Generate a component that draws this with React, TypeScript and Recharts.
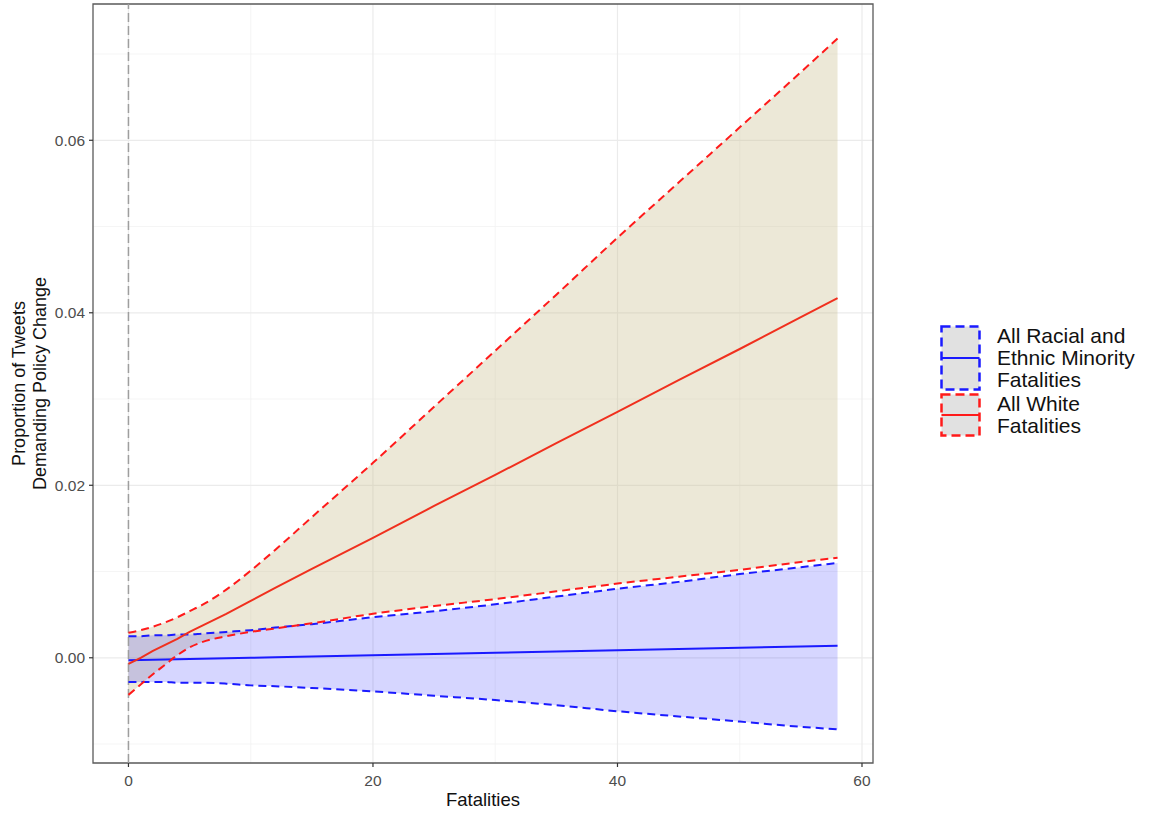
import React from 'react';
import {
  ComposedChart, Area, Line, XAxis, YAxis, CartesianGrid,
  ReferenceLine, ReferenceArea
} from 'recharts';

// Predicted share of policy-demand tweets by number of fatalities
const FATALITIES = [0, 1, 2, 3, 4, 5, 6, 8, 10, 12, 15, 20, 25, 30, 35, 40, 45, 50, 55, 58];

// Racial / ethnic minority victims
const MINORITY_FIT = [-0.0003, -0.00027, -0.00024, -0.00021, -0.00018, -0.00015, -0.00012, -0.00006, 0.0, 0.00005, 0.00014, 0.00029, 0.00043, 0.00058, 0.00073, 0.00087, 0.00102, 0.00117, 0.00131, 0.0014];
const MINORITY_HIGH = [0.0025, 0.0025, 0.0026, 0.0026, 0.0027, 0.0027, 0.0028, 0.003, 0.0032, 0.0035, 0.0039, 0.0047, 0.0054, 0.0062, 0.0071, 0.008, 0.0088, 0.0097, 0.0105, 0.011];
const MINORITY_LOW = [-0.0028, -0.0028, -0.0028, -0.0028, -0.0029, -0.0029, -0.0029, -0.003, -0.0032, -0.0033, -0.0035, -0.0039, -0.0044, -0.0049, -0.0055, -0.0062, -0.0068, -0.0074, -0.008, -0.0083];

// White victims
const WHITE_FIT = [-0.0007, 0.0, 0.0008, 0.0015, 0.0022, 0.003, 0.0037, 0.0051, 0.0066, 0.0081, 0.0103, 0.0139, 0.0176, 0.0212, 0.0249, 0.0285, 0.0322, 0.0358, 0.0395, 0.0417];
const WHITE_HIGH = [0.0029, 0.0032, 0.0036, 0.0041, 0.0047, 0.0054, 0.0061, 0.0079, 0.0101, 0.0125, 0.0163, 0.0226, 0.0291, 0.0356, 0.0421, 0.0487, 0.0551, 0.0615, 0.0679, 0.0718];
const WHITE_LOW = [-0.0043, -0.0031, -0.0019, -0.0008, 0.0003, 0.0012, 0.0018, 0.0025, 0.003, 0.0034, 0.004, 0.0051, 0.006, 0.0068, 0.0077, 0.0086, 0.0094, 0.0102, 0.0111, 0.0116];

const X_TICKS = [0, 20, 40, 60];
const X_MINOR = [10, 30, 50];
const Y_TICKS = [0, 0.02, 0.04, 0.06];
const Y_MINOR = [-0.01, 0.01, 0.03, 0.05, 0.07];
const X_DOMAIN: [number, number] = [-2.9, 60.9];
const Y_DOMAIN: [number, number] = [-0.0122, 0.0758];

const FONT = '"Liberation Sans", Arial, sans-serif';
const BLUE = '#1a1aff';
const RED = '#ff1a1a';

const chartData = FATALITIES.map((x, i) => ({
  x,
  minorityFit: MINORITY_FIT[i],
  minorityLow: MINORITY_LOW[i],
  minorityHigh: MINORITY_HIGH[i],
  minorityBand: [MINORITY_LOW[i], MINORITY_HIGH[i]],
  whiteFit: WHITE_FIT[i],
  whiteLow: WHITE_LOW[i],
  whiteHigh: WHITE_HIGH[i],
  whiteBand: [WHITE_LOW[i], WHITE_HIGH[i]],
}));

const LEGEND = [
  { color: BLUE, lines: ['All Racial and', 'Ethnic Minority', 'Fatalities'] },
  { color: RED, lines: ['All White', 'Fatalities'] },
];

const YTitle = (props: any) => {
  const { viewBox } = props;
  const cy = viewBox.y + viewBox.height / 2;
  const lines = ['Proportion of Tweets', 'Demanding Policy Change'];
  return (
    <g>
      {lines.map((t, i) => {
        const cx = viewBox.x - 14 + i * 20.5;
        return (
          <text
            key={t}
            x={cx}
            y={cy}
            transform={`rotate(-90 ${cx} ${cy})`}
            textAnchor="middle"
            dominantBaseline="central"
            fontSize={18}
            fontFamily={FONT}
            fill="#111"
          >
            {t}
          </text>
        );
      })}
    </g>
  );
};

const LegendKey = ({ color, height }: { color: string; height: number }) => (
  <svg width={42} height={height} style={{ display: 'block' }}>
    <rect x={1.5} y={1.5} width={38} height={height - 3} fill="#e1e1e1"
      stroke={color} strokeWidth={2.5} strokeDasharray="9 5" />
    <line x1={1.5} x2={39.5} y1={height / 2} y2={height / 2} stroke={color} strokeWidth={2} />
  </svg>
);

const App: React.FC = () => {
  return (
    <div style={{ position: 'absolute', left: 0, top: 0, width: 1149, height: 815, background: '#fff', fontFamily: FONT }}>
      <ComposedChart
        width={1149}
        height={815}
        data={chartData}
        margin={{ top: 4, right: 276, bottom: 7, left: 33 }}
      >
        <CartesianGrid stroke="#f3f3f3" strokeWidth={0.8} horizontalValues={Y_MINOR} verticalValues={X_MINOR} />
        <CartesianGrid stroke="#ebebeb" strokeWidth={1.2} horizontalValues={Y_TICKS} verticalValues={X_TICKS} />
        <XAxis
          dataKey="x"
          type="number"
          domain={X_DOMAIN}
          ticks={X_TICKS}
          allowDataOverflow
          height={45}
          axisLine={false}
          tickSize={4}
          tickMargin={8}
          tickLine={{ stroke: '#333', strokeWidth: 1.2 }}
          tick={{ fill: '#4d4d4d', fontSize: 15.5, fontFamily: FONT }}
          label={{ value: 'Fatalities', position: 'insideBottom', offset: 2, fontSize: 18.5, fill: '#111', fontFamily: FONT }}
        />
        <YAxis
          type="number"
          domain={Y_DOMAIN}
          ticks={Y_TICKS}
          allowDataOverflow
          width={60}
          axisLine={false}
          tickSize={4}
          tickMargin={4}
          tickLine={{ stroke: '#333', strokeWidth: 1.2 }}
          tick={{ fill: '#4d4d4d', fontSize: 15.5, fontFamily: FONT }}
          tickFormatter={(v: number) => v.toFixed(2)}
          label={{ content: YTitle }}
        />
        <ReferenceLine x={0} stroke="#9e9e9e" strokeWidth={1.5} strokeDasharray="9 4" />

        <Area type="monotone" dataKey="whiteBand" stroke="none" fill="#c8bd8c" fillOpacity={0.35} isAnimationActive={false} />
        <Area type="monotone" dataKey="minorityBand" stroke="none" fill="#0000ff" fillOpacity={0.16} isAnimationActive={false} />

        <Line type="monotone" dataKey="minorityHigh" stroke={BLUE} strokeWidth={2} strokeDasharray="8 5" dot={false} isAnimationActive={false} />
        <Line type="monotone" dataKey="minorityLow" stroke={BLUE} strokeWidth={2} strokeDasharray="8 5" dot={false} isAnimationActive={false} />
        <Line type="linear" dataKey="minorityFit" stroke={BLUE} strokeWidth={2} dot={false} isAnimationActive={false} />

        <Line type="monotone" dataKey="whiteHigh" stroke={RED} strokeWidth={2} strokeDasharray="8 5" dot={false} isAnimationActive={false} />
        <Line type="monotone" dataKey="whiteLow" stroke={RED} strokeWidth={2} strokeDasharray="8 5" dot={false} isAnimationActive={false} />
        <Line type="linear" dataKey="whiteFit" stroke="#f0301e" strokeWidth={2} dot={false} isAnimationActive={false} />

        <ReferenceArea
          x1={X_DOMAIN[0]} x2={X_DOMAIN[1]} y1={Y_DOMAIN[0]} y2={Y_DOMAIN[1]}
          fill="none" fillOpacity={0} stroke="#5a5a5a" strokeWidth={1.3} ifOverflow="visible"
        />
      </ComposedChart>

      <div style={{ position: 'absolute', left: 940, top: 325 }}>
        {LEGEND.map((item, i) => (
          <div key={i} style={{ display: 'flex', alignItems: 'flex-start', marginBottom: 2 }}>
            <LegendKey color={item.color} height={item.lines.length * 22} />
            <div style={{ marginLeft: 15, fontSize: 21, lineHeight: '22px', color: '#111' }}>
              {item.lines.map((l) => (
                <div key={l} style={{ whiteSpace: 'nowrap' }}>{l}</div>
              ))}
            </div>
          </div>
        ))}
      </div>
    </div>
  );
};

export default App;
